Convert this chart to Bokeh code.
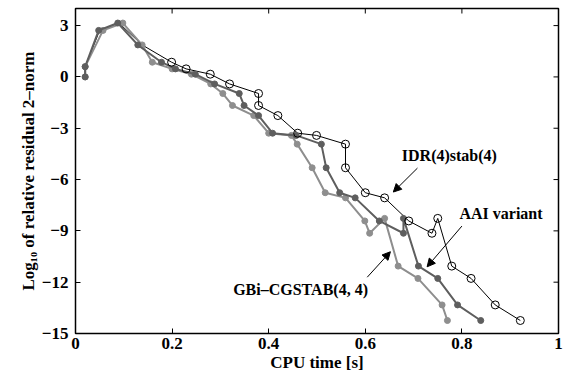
import math
from bokeh.plotting import figure
from bokeh.models import (ColumnDataSource, LinearAxis, FixedTicker, Label, Arrow,
                          NormalHead, CDSView, IndexFilter, Range1d)
from bokeh.embed import file_html
from bokeh.resources import INLINE

# shared residual history (log10 of relative residual 2-norm)
resid = [0.0, 0.6, 2.72, 3.15, 1.87, 0.86, 0.47, 0.16, -0.41, -0.97, -1.67, -2.26,
         -3.29, -3.42, -3.93, -5.31, -6.77, -7.07, -8.42, -9.14, -8.27, -11.06,
         -11.78, -13.33, -14.24]

# CPU time for each method
t_idr = [0.02, 0.02, 0.05, 0.09, 0.138, 0.199, 0.229, 0.279, 0.319, 0.379, 0.379, 0.419,
         0.46, 0.499, 0.559, 0.559, 0.60, 0.64, 0.69, 0.738, 0.75, 0.779, 0.819, 0.869, 0.921]
t_aai = [0.02, 0.02, 0.048, 0.0875, 0.129, 0.178, 0.207, 0.248, 0.288, 0.339, 0.349, 0.379,
         0.408, 0.457, 0.509, 0.519, 0.547, 0.579, 0.629, 0.679, 0.679, 0.71, 0.75, 0.791, 0.839]
t_gbi = [0.02, 0.02, 0.057, 0.098, 0.138, 0.159, 0.20, 0.24, 0.28, 0.305, 0.325, 0.369,
         0.40, 0.447, 0.459, 0.49, 0.517, 0.559, 0.599, 0.609, 0.64, 0.668, 0.709, 0.759, 0.77]

x_min, x_max = 0, 1
y_min, y_max = -15, 4
x_ticks = [0, 0.2, 0.4, 0.6, 0.8, 1]
x_tick_labels = ["0", "0.2", "0.4", "0.6", "0.8", "1"]
y_ticks = [-15, -12, -9, -6, -3, 0, 3]
y_tick_labels = ["\u221215", "\u221212", "\u22129", "\u22126", "\u22123", "0", "3"]

FONT = "Liberation Serif"

p = figure(width=563, height=376, output_backend="svg", toolbar_location=None,
           x_range=Range1d(x_min, x_max), y_range=Range1d(y_min, y_max),
           x_axis_location=None, y_axis_location=None,
           min_border_left=75, min_border_right=5, min_border_top=8, min_border_bottom=43)
p.grid.visible = False
p.outline_line_color = "black"
p.outline_line_width = 1.5
p.background_fill_color = "white"
p.border_fill_color = "white"

def make_axis(ticks, labels, label, standoff):
    ax = LinearAxis(ticker=FixedTicker(ticks=ticks))
    ax.major_label_overrides = {t: l for t, l in zip(ticks, labels)}
    ax.major_tick_in = 5
    ax.major_tick_out = 0
    ax.minor_tick_in = 0
    ax.minor_tick_out = 0
    ax.axis_line_color = None
    ax.major_tick_line_color = "black"
    ax.major_tick_line_width = 1
    ax.major_label_text_font = FONT
    ax.major_label_text_font_style = "bold"
    ax.major_label_text_font_size = "17px"
    ax.major_label_text_color = "black"
    ax.major_label_standoff = standoff
    ax.axis_label = label
    ax.axis_label_text_font = FONT
    ax.axis_label_text_font_style = "bold"
    ax.axis_label_text_font_size = "17px"
    ax.axis_label_text_color = "black"
    ax.axis_label_standoff = 1
    return ax

p.add_layout(make_axis(x_ticks, x_tick_labels, "CPU time [s]", 4), "below")
p.add_layout(make_axis(y_ticks, y_tick_labels,
                       "Log\u2081\u2080 of relative residual 2\u2013norm", 7), "left")

# tick marks on the top and right edges of the box
p.scatter(x=x_ticks, y=[y_max] * len(x_ticks), marker="dash", size=10,
          angle=math.pi / 2, line_color="black", line_width=1)
p.scatter(x=[x_max] * len(y_ticks), y=y_ticks, marker="dash", size=10,
          line_color="black", line_width=1)

src_idr = ColumnDataSource(dict(x=t_idr, y=resid))
src_aai = ColumnDataSource(dict(x=t_aai, y=resid))
src_gbi = ColumnDataSource(dict(x=t_gbi, y=resid))

p.line("x", "y", source=src_idr, line_color="black", line_width=1)
p.line("x", "y", source=src_gbi, line_color="#8e8e8e", line_width=2)
p.scatter("x", "y", source=src_gbi, marker="circle", size=6,
          fill_color="#8e8e8e", line_color="#8e8e8e")
p.line("x", "y", source=src_aai, line_color="#5e5e5e", line_width=2)
p.scatter("x", "y", source=src_aai, marker="circle", size=6,
          fill_color="#5e5e5e", line_color="#5e5e5e")
view = CDSView(filter=IndexFilter(list(range(5, len(resid)))))
p.scatter("x", "y", source=src_idr, view=view, marker="circle", size=8,
          fill_alpha=0, line_color="black", line_width=1)

def label(x, y, text):
    p.add_layout(Label(x=x, y=y, text=text, text_font=FONT, text_font_style="bold",
                       text_font_size="16px", text_align="center",
                       text_baseline="middle", text_color="black"))

def arrow(x0, y0, x1, y1):
    p.add_layout(Arrow(x_start=x0, y_start=y0, x_end=x1, y_end=y1, line_width=1,
                       line_color="black",
                       end=NormalHead(size=8, fill_color="black", line_color="black")))

label(0.774, -4.6, "IDR(4)stab(4)")
arrow(0.708, -5.33, 0.658, -6.73)
label(0.881, -7.97, "AAI variant")
arrow(0.800, -8.72, 0.728, -11.1)
label(0.466, -12.45, "GBi\u2013CGSTAB(4, 4)")
arrow(0.604, -11.71, 0.652, -10.22)

open("out.html", "w").write(file_html(p, INLINE))
